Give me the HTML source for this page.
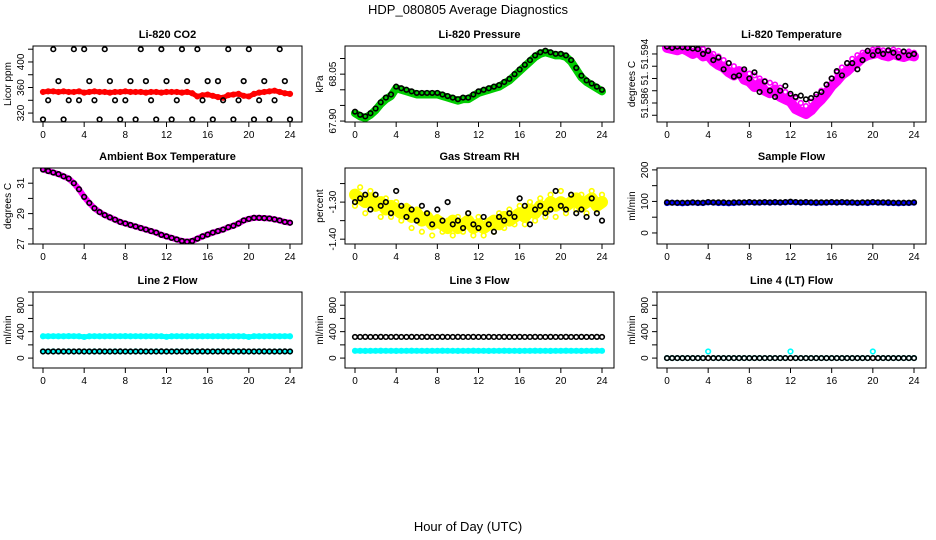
<!DOCTYPE html>
<html><head><meta charset="utf-8">
<style>
body{margin:0;background:#fff;}
svg{display:block;font-family:"Liberation Sans",sans-serif;}
</style></head>
<body>
<svg id="chart" width="936" height="540" viewBox="0 0 936 540">
<defs id="defs"></defs>
<text x="468" y="14" text-anchor="middle" font-size="13">HDP_080805  Average Diagnostics</text>
<text x="468" y="531" text-anchor="middle" font-size="13">Hour of Day (UTC)</text>
</svg>
<script>
const hours=[0,0.5,1,1.5,2,2.5,3,3.5,4,4.5,5,5.5,6,6.5,7,7.5,8,8.5,9,9.5,10,10.5,11,11.5,12,12.5,13,13.5,14,14.5,15,15.5,16,16.5,17,17.5,18,18.5,19,19.5,20,20.5,21,21.5,22,22.5,23,23.5,24];
const xTicks=[0,4,8,12,16,20,24];
const co2Red=[353,354,354,353,354,353,353,354,352,353,354,353,353,352,353,353,354,353,353,353,352,353,353,352,353,353,353,352,353,351,346,348,349,347,345,344,348,349,350,347,346,350,352,353,354,355,353,351,350];
const co2Black=[310,340,420,370,310,340,420,340,420,370,340,310,420,370,340,310,340,370,310,420,370,340,310,420,370,310,340,420,370,310,420,340,370,310,370,340,420,310,340,370,420,310,340,370,310,340,420,370,310];
const presGreen=[67.925,67.915,67.91,67.92,67.935,67.955,67.97,67.98,68.005,68.0,67.995,67.99,67.985,67.985,67.985,67.985,67.985,67.98,67.975,67.97,67.965,67.97,67.97,67.98,67.99,67.995,68.0,68.005,68.01,68.02,68.03,68.045,68.06,68.075,68.09,68.105,68.115,68.12,68.115,68.11,68.11,68.105,68.09,68.065,68.04,68.025,68.015,68.005,67.995];
const presBlack=[67.93,67.92,67.915,67.925,67.94,67.96,67.975,67.985,68.01,68.005,68.0,67.995,67.99,67.99,67.99,67.99,67.99,67.985,67.98,67.975,67.97,67.975,67.975,67.985,67.995,68.0,68.005,68.01,68.015,68.025,68.035,68.05,68.065,68.08,68.095,68.11,68.12,68.125,68.12,68.115,68.115,68.11,68.095,68.07,68.045,68.03,68.02,68.01,68.0];
const tempMag=[51.5952,51.5951,51.5952,51.5950,51.5951,51.5949,51.5950,51.5948,51.5946,51.5940,51.5936,51.5930,51.5925,51.5920,51.5915,51.5912,51.5908,51.5905,51.5900,51.5896,51.5893,51.5890,51.5885,51.5878,51.5872,51.5868,51.5860,51.5855,51.5862,51.5870,51.5880,51.5890,51.5900,51.5910,51.5918,51.5925,51.5932,51.5938,51.5942,51.5945,51.5947,51.5948,51.5946,51.5944,51.5947,51.5945,51.5943,51.5944,51.5942];
const tempMag2=[51.5950,51.5948,51.5946,51.5949,51.5945,51.5940,51.5944,51.5936,51.5938,51.5928,51.5922,51.5918,51.5910,51.5905,51.5912,51.5898,51.5895,51.5886,51.5892,51.5880,51.5876,51.5882,51.5870,51.5866,51.5862,51.5850,51.5846,51.5842,51.5848,51.5858,51.5866,51.5876,51.5888,51.5896,51.5906,51.5912,51.5920,51.5926,51.5934,51.5938,51.5940,51.5942,51.5938,51.5936,51.5940,51.5937,51.5935,51.5938,51.5936];
const tempBlack=[51.5952,51.5950,51.5952,51.5951,51.5950,51.5949,51.5948,51.5940,51.5945,51.5930,51.5934,51.5915,51.5925,51.5903,51.5905,51.5915,51.5900,51.5910,51.5878,51.5895,51.5880,51.5870,51.5880,51.5888,51.5875,51.5870,51.5872,51.5866,51.5868,51.5874,51.5878,51.5890,51.5900,51.5912,51.5905,51.5925,51.5925,51.5915,51.5930,51.5945,51.5938,51.5945,51.5940,51.5946,51.5942,51.5935,51.5944,51.5938,51.5940];
const ambMag=[31.9,31.8,31.7,31.6,31.45,31.3,31.0,30.6,30.1,29.7,29.35,29.1,28.9,28.75,28.6,28.45,28.35,28.25,28.15,28.05,27.95,27.85,27.75,27.6,27.5,27.4,27.3,27.2,27.15,27.2,27.35,27.5,27.62,27.75,27.85,27.95,28.1,28.2,28.35,28.55,28.65,28.72,28.72,28.7,28.68,28.62,28.55,28.45,28.4];
const ambBlack=[31.9,31.8,31.7,31.6,31.45,31.3,31.0,30.6,30.1,29.7,29.35,29.1,28.9,28.75,28.6,28.45,28.35,28.25,28.15,28.05,27.95,27.85,27.75,27.6,27.5,27.4,27.3,27.2,27.15,27.2,27.35,27.5,27.62,27.75,27.85,27.95,28.1,28.2,28.35,28.55,28.65,28.72,28.72,28.7,28.68,28.62,28.55,28.45,28.4];
const rhYellow=[-1.28,-1.29,-1.30,-1.29,-1.31,-1.30,-1.32,-1.31,-1.32,-1.33,-1.32,-1.34,-1.33,-1.35,-1.34,-1.36,-1.35,-1.36,-1.37,-1.35,-1.37,-1.36,-1.35,-1.37,-1.36,-1.37,-1.36,-1.35,-1.36,-1.34,-1.35,-1.34,-1.33,-1.34,-1.32,-1.33,-1.31,-1.32,-1.30,-1.31,-1.30,-1.31,-1.30,-1.29,-1.31,-1.30,-1.29,-1.31,-1.30];
const rhYellow2=[-1.31,-1.26,-1.33,-1.27,-1.29,-1.34,-1.29,-1.34,-1.30,-1.35,-1.31,-1.37,-1.32,-1.38,-1.33,-1.39,-1.34,-1.38,-1.35,-1.39,-1.34,-1.38,-1.33,-1.39,-1.34,-1.39,-1.35,-1.38,-1.33,-1.37,-1.32,-1.36,-1.31,-1.36,-1.30,-1.35,-1.29,-1.34,-1.28,-1.34,-1.27,-1.33,-1.28,-1.32,-1.28,-1.33,-1.27,-1.32,-1.28];
const rhBlack=[-1.30,-1.29,-1.28,-1.32,-1.28,-1.31,-1.30,-1.33,-1.27,-1.31,-1.34,-1.32,-1.35,-1.31,-1.33,-1.36,-1.32,-1.35,-1.30,-1.36,-1.35,-1.37,-1.33,-1.36,-1.37,-1.34,-1.36,-1.38,-1.34,-1.35,-1.33,-1.34,-1.29,-1.31,-1.36,-1.32,-1.31,-1.33,-1.32,-1.27,-1.31,-1.32,-1.28,-1.33,-1.32,-1.34,-1.29,-1.33,-1.35];
const sfBlue=[95,96,95,94,95,96,95,95,97,96,95,95,94,95,96,96,97,96,96,97,96,97,96,97,98,97,96,97,96,95,96,96,97,96,97,96,96,95,96,95,97,96,96,95,95,94,95,95,96];
const sfBlack=[97,96,96,96,96,97,96,96,98,97,97,97,96,97,97,97,98,97,97,98,97,98,97,98,99,98,97,98,97,97,97,97,98,97,98,97,97,96,97,97,98,97,97,97,96,96,96,96,97];
const l2CyanHi=[330,330,331,330,330,332,331,330,320,330,331,330,330,331,330,331,332,330,331,330,330,331,330,331,322,330,331,330,330,331,330,330,331,330,331,330,330,331,330,330,320,331,330,330,331,330,330,331,330];
const l2CyanLo=[100,100,101,100,100,101,100,100,100,100,101,100,100,100,101,100,100,100,101,100,100,100,101,100,100,100,101,100,100,100,101,100,100,100,101,100,100,100,101,100,100,100,101,100,100,100,101,100,100];
const l2Black=[100,100,100,101,100,100,100,101,100,100,100,101,100,100,100,101,100,100,100,101,100,100,100,101,100,100,100,101,100,100,100,101,100,100,100,101,100,100,100,101,100,100,100,101,100,100,100,101,100];
const l3Cyan=[110,110,109,110,110,111,110,110,109,110,110,111,110,110,109,110,110,111,110,110,109,110,110,111,110,110,109,110,110,111,110,110,109,110,110,111,110,110,109,110,110,111,110,110,109,110,110,111,110];
const l3Black=[320,320,321,320,320,321,320,320,321,320,320,321,320,320,321,320,320,321,320,320,321,320,320,321,320,320,321,320,320,321,320,320,321,320,320,321,320,320,321,320,320,321,320,320,321,320,320,321,320];
const l4Cyan=[0,0,0,0,0,0,0,0,100,0,0,0,0,0,0,0,0,0,0,0,0,0,0,0,100,0,0,0,0,0,0,0,0,0,0,0,0,0,0,0,100,0,0,0,0,0,0,0,0];
const l4Black=[0,0,0,0,0,0,0,0,0,0,0,0,0,0,0,0,0,0,0,0,0,0,0,0,0,0,0,0,0,0,0,0,0,0,0,0,0,0,0,0,0,0,0,0,0,0,0,0,0];

const svg=document.getElementById('chart');
const defs=document.getElementById('defs');
const NS='http://www.w3.org/2000/svg';
function mk(tag,attrs,parent){const e=document.createElementNS(NS,tag);for(const k in attrs)e.setAttribute(k,attrs[k]);(parent||svg).appendChild(e);return e;}

const panels=[
 {id:'co2',title:'Li-820 CO2',yl:'Licor ppm',col:0,row:0,ylim:[306,425],ticks:[320,340,360,380,400,420],labels:{320:'320',360:'360',400:'400'},series:[{v:co2Red,c:'#ff0000',band:5},{v:co2Black,c:'#000'}]},
 {id:'pressure',title:'Li-820 Pressure',yl:'kPa',col:1,row:0,ylim:[67.897,68.14],ticks:[67.90,67.95,68.00,68.05,68.10],labels:{'67.9':'67.90','68.05':'68.05'},series:[{v:presGreen,c:'#00cc00',band:8},{v:presBlack,c:'#000'}]},
 {id:'li820-temp',title:'Li-820 Temperature',yl:'degrees C',col:2,row:0,ylim:[51.5829,51.5953],ticks:[51.584,51.586,51.588,51.590,51.592,51.594],labels:{'51.586':'51.586','51.59':'51.','51.594':'51.594'},series:[{v:tempMag,c:'#ff00ff'},{v:tempMag2,c:'#ff00ff',band:10},{v:tempBlack,c:'#000'}]},
 {id:'ambient',title:'Ambient Box Temperature',yl:'degrees C',col:0,row:1,ylim:[27,32],ticks:[27,28,29,30,31],labels:{27:'27',29:'29',31:'31'},series:[{v:ambMag,c:'#ff00ff',band:6},{v:ambBlack,c:'#000'}]},
 {id:'rh',title:'Gas Stream RH',yl:'percent',col:1,row:1,ylim:[-1.413,-1.208],ticks:[-1.40,-1.35,-1.30,-1.25],labels:{'-1.4':'-1.40','-1.3':'-1.30'},series:[{v:rhYellow,c:'#ffff00',band:12},{v:rhYellow2,c:'#ffff00'},{v:rhBlack,c:'#000'}]},
 {id:'sample-flow',title:'Sample Flow',yl:'ml/min',col:2,row:1,ylim:[-35,206],ticks:[0,50,100,150,200],labels:{0:'0',100:'100',200:'200'},series:[{v:sfBlue,c:'#0000ff',band:5},{v:sfBlack,c:'#000'}]},
 {id:'line2-flow',title:'Line 2 Flow',yl:'ml/min',col:0,row:2,ylim:[-150,1000],ticks:[0,200,400,600,800,1000],labels:{0:'0',400:'400',800:'800'},series:[{v:l2CyanHi,c:'#00ffff',band:5},{v:l2CyanLo,c:'#00ffff',band:4},{v:l2Black,c:'#000'}]},
 {id:'line3-flow',title:'Line 3 Flow',yl:'ml/min',col:1,row:2,ylim:[-150,1000],ticks:[0,200,400,600,800,1000],labels:{0:'0',400:'400',800:'800'},series:[{v:l3Black,c:'#000'},{v:l3Cyan,c:'#00ffff',band:5}]},
 {id:'line4-flow',title:'Line 4 (LT) Flow',yl:'ml/min',col:2,row:2,ylim:[-150,1000],ticks:[0,200,400,600,800,1000],labels:{0:'0',400:'400',800:'800'},series:[{v:l4Cyan,c:'#00ffff'},{v:l4Black,c:'#000'}]}
];
const colL=[33,345,657], rowT=[46,168,292], W=269, H=76;

panels.forEach(p=>{
 const L=colL[p.col], T=rowT[p.row];
 const g=mk('g',{});
 
 
 const cp=mk('clipPath',{id:'clip-'+p.id},defs);
 mk('rect',{x:L,y:T,width:W,height:H},cp);
 const xs=h=>L+10+h*247/24;
 const ys=v=>T+H-(v-p.ylim[0])/(p.ylim[1]-p.ylim[0])*H;
 const t=mk('text',{x:L+W/2,y:T-8,'text-anchor':'middle','font-size':11,'font-weight':'bold'},g);
 t.textContent=p.title;
 
 
 const cg=mk('g',{'clip-path':'url(#clip-'+p.id+')'},g);
 p.series.forEach(s=>{
  if(s.band){
   const pts=hours.map((h,i)=>xs(h)+','+ys(s.v[i])).join(' ');
   const pl=mk('polyline',{points:pts,fill:'none',stroke:s.c,'stroke-width':s.band,'stroke-linejoin':'round','stroke-linecap':'round'},cg);
   
   
  }
  hours.forEach((h,i)=>{
   const c=mk('circle',{cx:xs(h),cy:ys(s.v[i]),r:2.3,fill:'none',stroke:s.c,'stroke-width':1.6},cg);
   
   
  });
 });
 const box=mk('rect',{x:L,y:T,width:W,height:H,fill:'none',stroke:'#000','stroke-width':1},g);
 
 
 xTicks.forEach(h=>{
  mk('line',{x1:xs(h),x2:xs(h),y1:T+H,y2:T+H+5,stroke:'#000'},g);
  const tl=mk('text',{x:xs(h),y:T+H+16,'text-anchor':'middle','font-size':10},g);
  tl.textContent=h;
  
  
 });
 p.ticks.forEach(v=>{
  const y=ys(v);
  mk('line',{x1:L-5,x2:L,y1:y,y2:y,stroke:'#000'},g);
  const key=String(+v.toFixed(4));
  if(p.labels[key]!==undefined){
   const tl=mk('text',{x:L-9,y:y,'text-anchor':'middle','font-size':10,transform:'rotate(-90 '+(L-9)+' '+y+')'},g);
   tl.textContent=p.labels[key];
   
   
  }
 });
 const yt=mk('text',{x:L-22,y:T+H/2,'text-anchor':'middle','font-size':10,transform:'rotate(-90 '+(L-22)+' '+(T+H/2)+')'},g);
 yt.textContent=p.yl;
 
 
});
</script>
</body></html>
